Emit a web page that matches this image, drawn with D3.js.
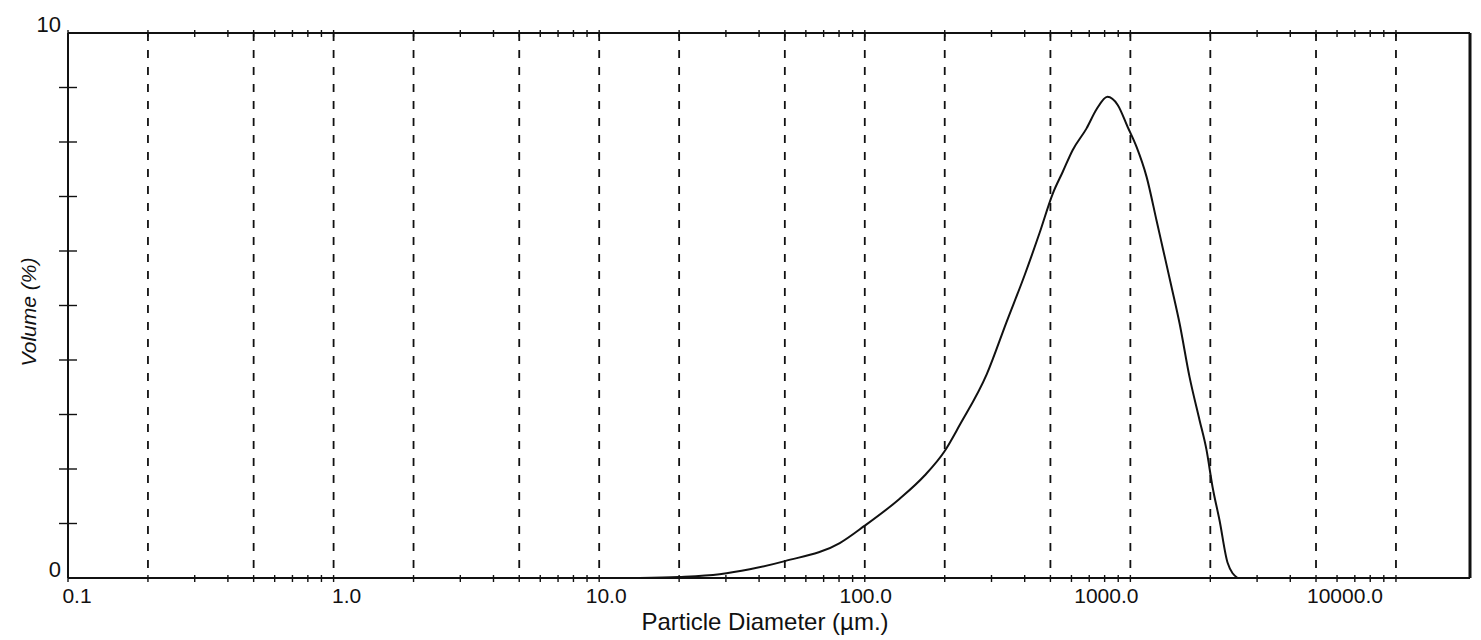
<!DOCTYPE html>
<html>
<head>
<meta charset="utf-8">
<script src="https://cdn.jsdelivr.net/npm/d3@7"></script>
<style>
  html, body { margin: 0; padding: 0; background: #fff; }
  svg { display: block; }
  text { font-family: "Liberation Sans", Arial, sans-serif; fill: #111; }
</style>
</head>
<body>
<svg id="chart" width="1481" height="640"></svg>
<script>
// Particle size distribution (volume %) vs. particle diameter in µm.
const diameters = [14.2, 20, 28.4, 36.9, 50, 80.5, 100, 135, 168, 200, 228, 288, 342, 400,
  455, 510, 556, 606, 684, 746, 820, 896, 976, 1055, 1151, 1256, 1322, 1429, 1531, 1670,
  1821, 1935, 2039, 2166, 2323, 2533];
const volumes = [0, 0.02, 0.07, 0.16, 0.31, 0.64, 0.96, 1.45, 1.88, 2.33, 2.81, 3.74, 4.70, 5.56,
  6.33, 7.05, 7.45, 7.85, 8.25, 8.6, 8.83, 8.68, 8.28, 7.91, 7.36, 6.55, 6.07, 5.34, 4.68, 3.69,
  2.90, 2.35, 1.67, 1.06, 0.28, 0];

const xDomain = [0.1, 19000];
const yDomain = [0, 10];
const gridValues = [0.2, 0.5, 1, 2, 5, 10, 20, 50, 100, 200, 500, 1000, 2000, 5000, 10000];
const xTickValues = [0.1, 1, 10, 100, 1000, 10000];
const xTickLabels = ["0.1", "1.0", "10.0", "100.0", "1000.0", "10000.0"];
const yTickValues = [1, 2, 3, 4, 5, 6, 7, 8, 9];
const yTickLabels = [[0, "0"], [10, "10"]];

const plotL = 68, plotR = 1470, plotT = 33, plotB = 578;
const svg = d3.select("#chart");

const x = d3.scaleLog().domain(xDomain).range([plotL, plotR]);
const y = d3.scaleLinear().domain(yDomain).range([plotB, plotT]);

// dashed vertical grid
svg.append("g").selectAll("line").data(gridValues).join("line")
  .attr("x1", d => x(d)).attr("x2", d => x(d))
  .attr("y1", plotT).attr("y2", plotB)
  .attr("stroke", "#111").attr("stroke-width", 1.8)
  .attr("stroke-dasharray", "8,9");

// minor log ticks along top and bottom edges
const minor = [];
for (let e = -1; e <= 4; e++) for (let m = 1; m <= 9; m++) {
  const v = m * Math.pow(10, e);
  if (v >= xDomain[0] && v <= xDomain[1]) minor.push(v);
}
const ticks = svg.append("g").attr("stroke", "#111").attr("stroke-width", 1.4);
ticks.selectAll(".bt").data(minor).join("line").attr("class", "bt")
  .attr("x1", d => x(d)).attr("x2", d => x(d))
  .attr("y1", plotB - 3).attr("y2", plotB + 4);
ticks.selectAll(".tt").data(minor).join("line").attr("class", "tt")
  .attr("x1", d => x(d)).attr("x2", d => x(d))
  .attr("y1", plotT - 3).attr("y2", plotT + 4);

// y ticks crossing the left axis
ticks.selectAll(".yt").data(yTickValues).join("line").attr("class", "yt")
  .attr("x1", plotL - 9).attr("x2", plotL + 9)
  .attr("y1", d => y(d)).attr("y2", d => y(d));

// frame
const frame = svg.append("g").attr("stroke", "#111").attr("fill", "none");
frame.append("line").attr("x1", plotL).attr("x2", plotR).attr("y1", plotT).attr("y2", plotT).attr("stroke-width", 2);
frame.append("line").attr("x1", plotL).attr("x2", plotR).attr("y1", plotB).attr("y2", plotB).attr("stroke-width", 2);
frame.append("line").attr("x1", plotL).attr("x2", plotL).attr("y1", plotT).attr("y2", plotB).attr("stroke-width", 2);
frame.append("line").attr("x1", plotR).attr("x2", plotR).attr("y1", plotT).attr("y2", plotB).attr("stroke-width", 3);

// distribution curve
const line = d3.line()
  .x((d, i) => x(diameters[i]))
  .y(d => y(d))
  .curve(d3.curveMonotoneX);
svg.append("path").datum(volumes)
  .attr("d", line)
  .attr("fill", "none").attr("stroke", "#111").attr("stroke-width", 2);

// x tick labels (printed slightly shifted from their ticks)
const labelShift = [9, 13, 7, 1, -24, -51];
svg.append("g").selectAll("text").data(xTickValues).join("text")
  .attr("x", (d, i) => x(d) + labelShift[i])
  .attr("y", 603)
  .attr("text-anchor", "middle")
  .attr("font-size", 21)
  .text((d, i) => xTickLabels[i]);

// y tick labels
svg.append("g").selectAll("text").data(yTickLabels).join("text")
  .attr("x", plotL - 7)
  .attr("y", d => y(d[0]) - 1)
  .attr("text-anchor", "end")
  .attr("font-size", 22)
  .text(d => d[1]);

// axis titles
svg.append("text")
  .attr("x", (plotL + plotR) / 2 - 4).attr("y", 630)
  .attr("text-anchor", "middle").attr("font-size", 24)
  .text("Particle Diameter (µm.)");

svg.append("text")
  .attr("transform", `translate(36,312) rotate(-90)`)
  .attr("text-anchor", "middle").attr("font-size", 21).attr("font-style", "italic")
  .text("Volume (%)");
</script>
</body>
</html>
